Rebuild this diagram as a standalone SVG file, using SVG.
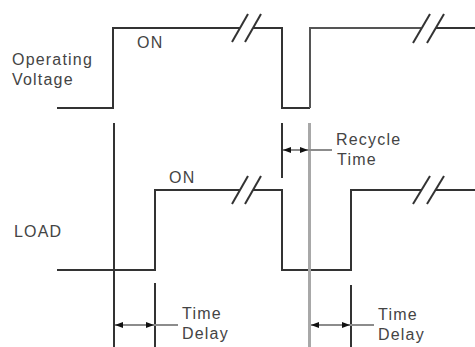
<svg xmlns="http://www.w3.org/2000/svg" width="475" height="347" viewBox="0 0 475 347">
<style>
.wave{fill:none;stroke:#333;stroke-width:2;stroke-linejoin:miter}
.brk{stroke:#333;stroke-width:2}
.tick{stroke:#333;stroke-width:2}
.gray{stroke:#a8a8a8;stroke-width:3}
.dim{stroke:#8c8c8c;stroke-width:2}
text{font-family:"Liberation Sans",Arial,sans-serif;font-size:16px;fill:#444;letter-spacing:1.2px}
</style>
<defs>
<marker id="ah" viewBox="0 0 8 6" refX="8" refY="3" markerWidth="8" markerHeight="6" markerUnits="userSpaceOnUse" orient="auto-start-reverse">
<path d="M0,0 L8,3 L0,6 z" fill="#111"/>
</marker>
</defs>
<rect width="475" height="347" fill="#fff"/>
<g id="voltage-wave">
<path class="wave" d="M57,108 H113 V28 H240"/>
<path class="wave" d="M253,28 H282 V108 H310"/>
<path class="wave" d="M310,108 V28 H421" style="stroke:#555"/>
<path class="wave" d="M436,28 H475"/>
<line class="brk" x1="232" y1="42" x2="248" y2="14"/>
<line class="brk" x1="245" y1="42" x2="261" y2="14"/>
<line class="brk" x1="413" y1="43" x2="430" y2="14"/>
<line class="brk" x1="427" y1="43" x2="444" y2="14"/>
</g>
<g id="load-wave">
<path class="wave" d="M57,270 H155 V190 H240"/>
<path class="wave" d="M253,190 H282 V270 H351 V190 H421"/>
<path class="wave" d="M436,190 H475"/>
<line class="brk" x1="232" y1="204" x2="248" y2="176"/>
<line class="brk" x1="245" y1="204" x2="261" y2="176"/>
<line class="brk" x1="413" y1="204" x2="430" y2="176"/>
<line class="brk" x1="427" y1="204" x2="444" y2="176"/>
</g>
<g id="markers">
<line class="tick" x1="114" y1="123" x2="114" y2="347"/>
<line class="tick" x1="282" y1="123" x2="282" y2="178"/>
<line class="gray" x1="309.5" y1="123" x2="309.5" y2="347"/>
<line class="tick" x1="155" y1="283" x2="155" y2="347"/>
<line class="tick" x1="351" y1="285" x2="351" y2="347"/>
</g>
<g id="connectors">
<line class="dim" x1="283" y1="150" x2="308" y2="150" marker-start="url(#ah)" marker-end="url(#ah)"/>
<line class="dim" x1="308" y1="150" x2="332" y2="150"/>
<line class="dim" x1="115" y1="325" x2="154" y2="325" marker-start="url(#ah)" marker-end="url(#ah)"/>
<line class="dim" x1="154" y1="325" x2="178" y2="325"/>
<line class="dim" x1="311" y1="325" x2="350" y2="325" marker-start="url(#ah)" marker-end="url(#ah)"/>
<line class="dim" x1="350" y1="325" x2="374" y2="325"/>
</g>
<g id="label-voltage">
<text x="12" y="65">Operating</text>
<text x="12" y="85">Voltage</text>
</g>
<g id="label-on-voltage"><text x="137" y="48">ON</text></g>
<g id="label-load"><text x="14" y="237">LOAD</text></g>
<g id="label-on-load"><text x="169" y="183">ON</text></g>
<g id="label-recycle">
<text x="336" y="145">Recycle</text>
<text x="337" y="165">Time</text>
</g>
<g id="label-delay1">
<text x="182" y="319">Time</text>
<text x="182" y="339">Delay</text>
</g>
<g id="label-delay2">
<text x="378" y="320">Time</text>
<text x="378" y="340">Delay</text>
</g>
</svg>
